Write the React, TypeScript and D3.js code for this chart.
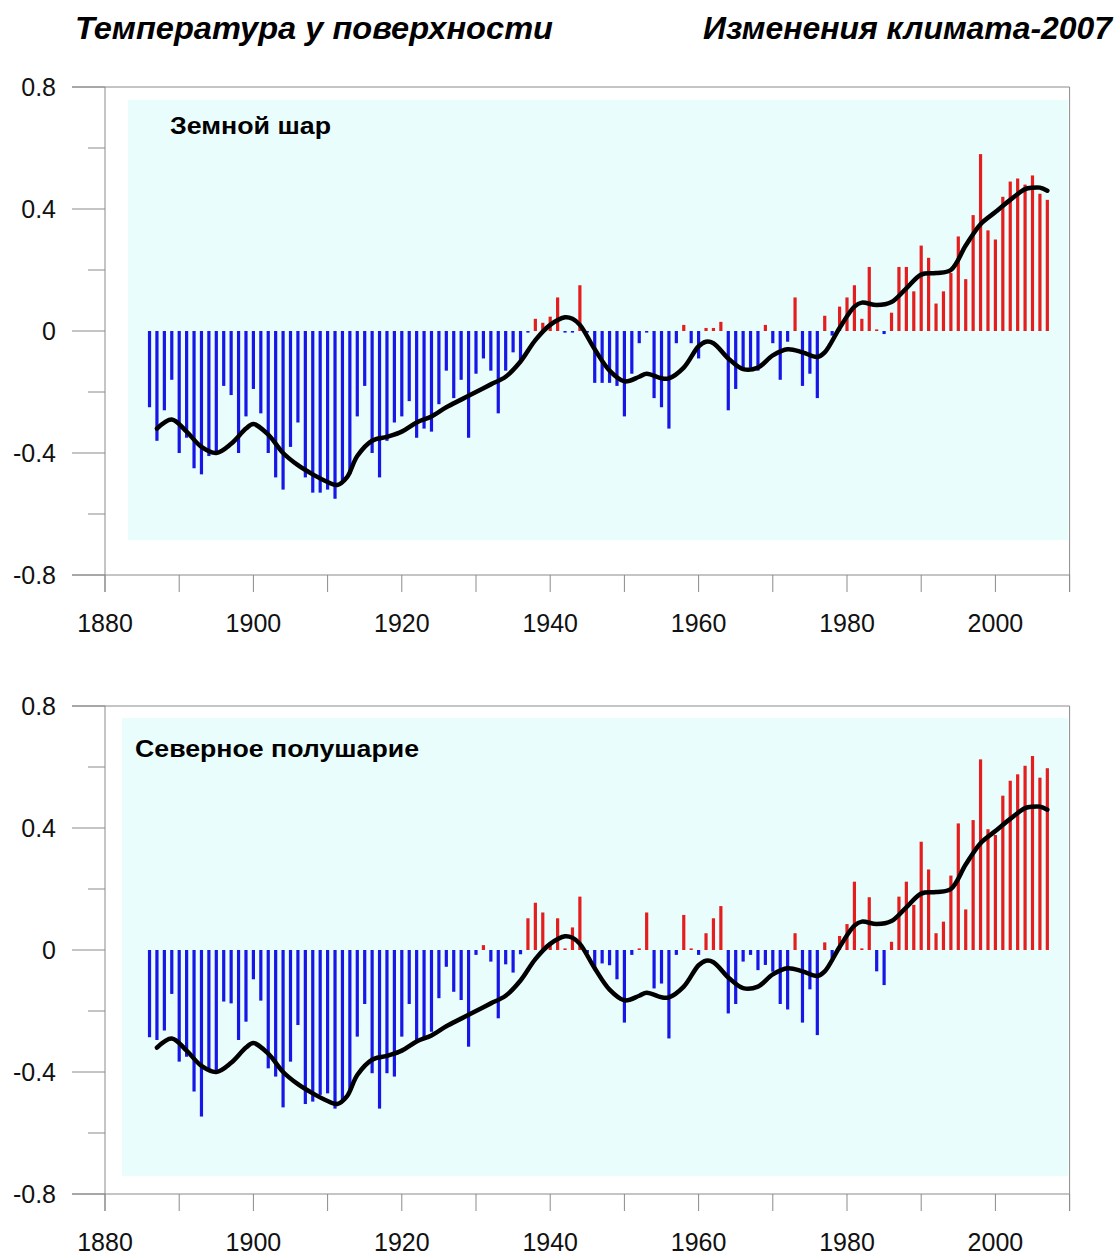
import React from "react";
import * as d3 from "d3";

const FIRST_YEAR = 1886;

// Global (Земной шар) annual anomalies 1886..2007
const globalValues = [
  -0.25, -0.36, -0.26, -0.16, -0.40, -0.35, -0.45, -0.47, -0.41, -0.40,
  -0.18, -0.21, -0.40, -0.28, -0.19, -0.27, -0.40, -0.48, -0.52, -0.38,
  -0.30, -0.48, -0.53, -0.53, -0.52, -0.55, -0.50, -0.47, -0.28, -0.18,
  -0.40, -0.48, -0.36, -0.30, -0.28, -0.23, -0.35, -0.32, -0.33, -0.24,
  -0.13, -0.22, -0.16, -0.35, -0.14, -0.09, -0.13, -0.27, -0.13, -0.07,
  -0.10, -0.005, 0.04, 0.027, 0.047, 0.11, -0.004, -0.004, 0.15, -0.003,
  -0.17, -0.17, -0.17, -0.18, -0.28, -0.14, -0.04, -0.005, -0.22, -0.25,
  -0.32, -0.04, 0.02, -0.04, -0.09, 0.01, 0.01, 0.03, -0.26, -0.19,
  -0.13, -0.12, -0.13, 0.02, -0.04, -0.16, -0.035, 0.11, -0.18, -0.14,
  -0.22, 0.05, -0.015, 0.08, 0.11, 0.15, 0.04, 0.21, 0.004, -0.01,
  0.06, 0.21, 0.21, 0.13, 0.28, 0.24, 0.09, 0.13, 0.19, 0.31,
  0.17, 0.38, 0.58, 0.33, 0.30, 0.44, 0.49, 0.50, 0.48, 0.51,
  0.45, 0.43,
];

// Northern hemisphere (Северное полушарие) annual anomalies 1886..2007
const nhValues = [
  -0.286, -0.295, -0.264, -0.144, -0.366, -0.35, -0.464, -0.546, -0.391, -0.393,
  -0.169, -0.175, -0.295, -0.235, -0.096, -0.166, -0.388, -0.415, -0.516, -0.366,
  -0.246, -0.505, -0.497, -0.475, -0.47, -0.52, -0.50, -0.46, -0.284, -0.177,
  -0.404, -0.52, -0.404, -0.415, -0.284, -0.177, -0.30, -0.29, -0.268, -0.158,
  -0.055, -0.137, -0.164, -0.317, -0.016, 0.016, -0.038, -0.224, -0.047, -0.074,
  -0.014, 0.104, 0.155, 0.123, 0.016, 0.104, 0.005, 0.074, 0.175, -0.01,
  -0.066, -0.044, -0.05, -0.096, -0.238, -0.016, 0.005, 0.123, -0.126, -0.11,
  -0.29, -0.016, 0.115, 0.005, -0.016, 0.055, 0.104, 0.144, -0.208, -0.177,
  -0.038, -0.016, -0.066, -0.049, -0.071, -0.177, -0.195, 0.055, -0.238, -0.129,
  -0.279, 0.025, -0.027, 0.046, 0.085, 0.224, 0.005, 0.173, -0.07, -0.115,
  0.027, 0.175, 0.224, 0.148, 0.355, 0.264, 0.055, 0.093, 0.244, 0.415,
  0.133, 0.426, 0.625, 0.396, 0.377, 0.506, 0.555, 0.576, 0.604, 0.636,
  0.565, 0.596,
];

// Smoothed curve (same curve in both panels)
const smoothYears = [
  1887, 1889, 1891, 1893, 1895, 1897, 1899, 1900, 1902, 1904, 1906, 1908, 1910, 1911.3,
  1912.6, 1914, 1916, 1918, 1920, 1922, 1924, 1926, 1928, 1930, 1932, 1934, 1936, 1938,
  1940, 1942, 1943, 1944, 1946, 1948, 1950, 1952, 1953, 1955, 1956, 1958, 1960, 1961,
  1962, 1964, 1966, 1968, 1970, 1972, 1974, 1976, 1977, 1979, 1981, 1982, 1984, 1986,
  1988, 1990, 1992, 1994, 1996, 1998, 2000, 2002, 2004, 2005, 2006, 2007,
];
const smoothValues = [
  -0.32, -0.29, -0.33, -0.38, -0.40, -0.37, -0.32, -0.305, -0.34, -0.40, -0.44, -0.47, -0.495, -0.505,
  -0.48, -0.41, -0.36, -0.347, -0.33, -0.30, -0.28, -0.25, -0.225, -0.20, -0.175, -0.15, -0.10, -0.03,
  0.02, 0.045, 0.04, 0.02, -0.06, -0.13, -0.165, -0.15, -0.14, -0.155, -0.155, -0.12, -0.05, -0.035,
  -0.04, -0.09, -0.125, -0.12, -0.08, -0.06, -0.07, -0.085, -0.07, 0.01, 0.08, 0.093, 0.085, 0.095,
  0.14, 0.185, 0.19, 0.20, 0.28, 0.35, 0.39, 0.43, 0.465, 0.47, 0.47, 0.46,
];

const yMajorTicks = [-0.8, -0.4, 0, 0.4, 0.8];
const yMajorLabels = ["-0.8", "-0.4", "0", "0.4", "0.8"];
const yMinorTicks = [-0.6, -0.2, 0.2, 0.6];
const xTicks = [1880, 1890, 1900, 1910, 1920, 1930, 1940, 1950, 1960, 1970, 1980, 1990, 2000, 2010];
const xLabels = [1880, 1900, 1920, 1940, 1960, 1980, 2000];

const title1 = "Температура  у поверхности";
const title2 = "Изменения климата-2007";
const panelLabels = ["Земной шар", "Северное полушарие"];

const FONT = "'Liberation Sans', Arial, Helvetica, sans-serif";
const BLUE = "#1616e6";
const RED = "#e41e1e";
const AXIS = "#8a8a8a";

const x = d3.scaleLinear().domain([1880, 2010]).range([105, 1069.6]);

type PanelProps = {
  values: number[];
  yTop: number;
  yBottom: number;
  bg: { x0: number; x1: number; y0: number; y1: number };
  label: string;
  labelX: number;
  labelY: number;
  labelLen: number;
};

function Panel({ values, yTop, yBottom, bg, label, labelX, labelY, labelLen }: PanelProps) {
  const y = d3.scaleLinear().domain([-0.8, 0.8]).range([yBottom, yTop]);
  const y0 = y(0);
  const line = d3
    .line<number>()
    .x((_, i) => x(smoothYears[i]))
    .y((d) => y(d))
    .curve(d3.curveCatmullRom.alpha(0.5));
  const left = x(1880);
  const right = x(2010);
  return (
    <g>
      <rect x={bg.x0} y={bg.y0} width={bg.x1 - bg.x0} height={bg.y1 - bg.y0} fill="#eafdfd" />
      <line x1={72} x2={right} y1={y(0.8)} y2={y(0.8)} stroke={AXIS} strokeWidth={1} />
      <line x1={72} x2={right} y1={y(-0.8)} y2={y(-0.8)} stroke={AXIS} strokeWidth={1} />
      <line x1={left} x2={left} y1={y(0.8)} y2={y(-0.8) + 17} stroke={AXIS} strokeWidth={1} />
      <line x1={right} x2={right} y1={y(0.8)} y2={y(-0.8) + 17} stroke={AXIS} strokeWidth={1} />
      {yMajorTicks.map((t, i) => (
        <g key={"ym" + t}>
          <line x1={72} x2={left} y1={y(t)} y2={y(t)} stroke={AXIS} strokeWidth={1} />
          <text
            x={56}
            y={y(t)}
            dominantBaseline="central"
            textAnchor="end"
            fontFamily={FONT}
            fontSize={25}
            fill="#111"
          >
            {yMajorLabels[i]}
          </text>
        </g>
      ))}
      {yMinorTicks.map((t) => (
        <line key={"yn" + t} x1={88} x2={left} y1={y(t)} y2={y(t)} stroke={AXIS} strokeWidth={1} />
      ))}
      {xTicks.map((t) => (
        <line key={"xt" + t} x1={x(t)} x2={x(t)} y1={y(-0.8)} y2={y(-0.8) + 17} stroke={AXIS} strokeWidth={1} />
      ))}
      {xLabels.map((t) => (
        <text
          key={"xl" + t}
          x={x(t)}
          y={y(-0.8) + 48}
          dominantBaseline="central"
          textAnchor="middle"
          fontFamily={FONT}
          fontSize={25}
          fill="#111"
        >
          {t}
        </text>
      ))}
      {values.map((v, i) => {
        const yr = FIRST_YEAR + i;
        const yv = y(v);
        let top = Math.min(yv, y0);
        let h = Math.abs(yv - y0);
        if (h < 1.6) {
          h = 1.6;
          top = v >= 0 ? y0 - h : y0;
        }
        return (
          <rect key={yr} x={x(yr) - 1.6} y={top} width={3.2} height={h} fill={v >= 0 ? RED : BLUE} />
        );
      })}
      <path d={line(smoothValues) || ""} fill="none" stroke="#000" strokeWidth={4.5} strokeLinejoin="round" strokeLinecap="round" />
      <text
        x={labelX}
        y={labelY}
        fontFamily={FONT}
        fontWeight="bold"
        fontSize={24}
        fill="#000"
        textLength={labelLen}
        lengthAdjust="spacingAndGlyphs"
      >
        {label}
      </text>
    </g>
  );
}

export default function App() {
  return (
    <svg
      width={1116}
      height={1256}
      style={{ position: "absolute", left: 0, top: 0, background: "#fff" }}
    >
      <rect x={0} y={0} width={1116} height={1256} fill="#fff" />
      <text
        x={75}
        y={39}
        fontFamily={FONT}
        fontWeight="bold"
        fontStyle="italic"
        fontSize={31}
        fill="#000"
        textLength={478}
        lengthAdjust="spacingAndGlyphs"
      >
        {title1}
      </text>
      <text
        x={703}
        y={39}
        fontFamily={FONT}
        fontWeight="bold"
        fontStyle="italic"
        fontSize={31}
        fill="#000"
        textLength={409}
        lengthAdjust="spacingAndGlyphs"
      >
        {title2}
      </text>
      <Panel
        values={globalValues}
        yTop={87}
        yBottom={575}
        bg={{ x0: 128, x1: 1068, y0: 100, y1: 540 }}
        label={panelLabels[0]}
        labelX={170}
        labelY={134}
        labelLen={161}
      />
      <Panel
        values={nhValues}
        yTop={706}
        yBottom={1194}
        bg={{ x0: 122, x1: 1068, y0: 718, y1: 1176 }}
        label={panelLabels[1]}
        labelX={135}
        labelY={757}
        labelLen={284}
      />
    </svg>
  );
}
